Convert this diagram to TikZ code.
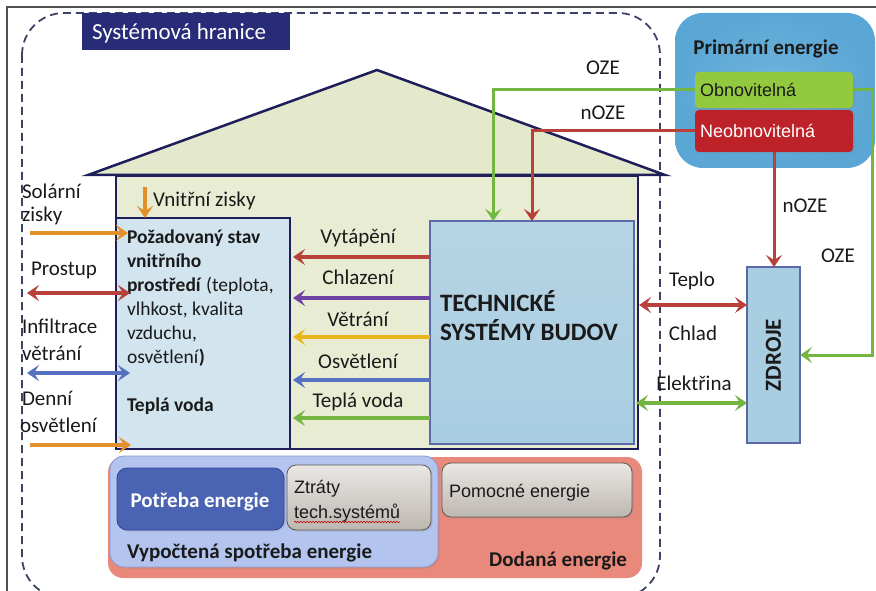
\documentclass[tikz,border=0pt]{standalone}
\usepackage{fontspec}
\setmainfont{Carlito}
\newfontfamily\arialf{Liberation Sans}
\usetikzlibrary{arrows.meta,calc,decorations.pathmorphing,shadows}

\definecolor{navy}{HTML}{1E1E5A}
\definecolor{framegray}{HTML}{505050}
\definecolor{boundary}{HTML}{3C4466}
\definecolor{labelbox}{HTML}{282C78}
\definecolor{houseol}{HTML}{E3E9CA}
\definecolor{reqblue}{HTML}{D2E5EF}
\definecolor{tsblue}{HTML}{A9CDE1}
\definecolor{tsedge}{HTML}{5A6AA8}
\definecolor{primblue}{HTML}{5AA6D4}
\definecolor{primlight}{HTML}{70B5DE}
\definecolor{renew}{HTML}{93C93F}
\definecolor{nonrenew}{HTML}{BE2229}
\definecolor{lgreen}{HTML}{74B642}
\definecolor{lred}{HTML}{B8413A}
\definecolor{lorange}{HTML}{E3902A}
\definecolor{lpurple}{HTML}{6E42A4}
\definecolor{lyellow}{HTML}{EAB51C}
\definecolor{lblue}{HTML}{5670C4}
\definecolor{delivered}{HTML}{E8897C}
\definecolor{computed}{HTML}{B3C5EE}
\definecolor{computededge}{HTML}{8C9CD2}
\definecolor{need}{HTML}{4A63B3}
\definecolor{neededge}{HTML}{33479A}
\definecolor{greyA}{HTML}{EAE7E4}
\definecolor{greyB}{HTML}{BDB7B1}
\definecolor{greyedge}{HTML}{5E5954}
\definecolor{txt}{HTML}{1A1A1A}

\begin{document}
\begin{tikzpicture}[x=1pt,y=-1pt,
  >={Stealth[length=12pt,width=16pt,inset=5pt]},
  every node/.style={inner sep=0pt,outer sep=0pt,text=txt},
  plain/.style={font=\fontsize{21}{25}\selectfont},
  boldtxt/.style={font=\fontsize{21}{25}\selectfont\bfseries},
  boxtxt/.style={font=\fontsize{19.5}{24}\selectfont},
  sanstxt/.style={font=\arialf\fontsize{18}{22}\selectfont},
  flow/.style={line width=3.5pt,->},
  twoway/.style={line width=3.5pt,<->},
  feed/.style={line width=3pt,->},
  softshadow/.style={drop shadow={opacity=0.25,shadow xshift=1.5pt,shadow yshift=-1.5pt}},
  greybox/.style={top color=greyA,bottom color=greyB,draw=greyedge,line width=0.8pt,rounded corners=9pt,softshadow}]

\useasboundingbox (0,0) rectangle (876,591);
\clip (0,0) rectangle (876,591);
\fill[white] (0,0) rectangle (876,591);

% page frame
\draw[framegray,line width=1.2pt] (7,591) -- (7,7) -- (876,7);

% system boundary
\draw[boundary,line width=1.8pt,dash pattern=on 8pt off 5pt,rounded corners=42pt]
  (22,13) rectangle (660,598);
\node[fill=labelbox,minimum width=208pt,minimum height=37pt] (syslbl) at (186,31.5) {};
\node[anchor=base west,text=white,font=\fontsize{23}{27}\selectfont] (systxt) at (92,40) {Systémová hranice};

% house
\draw[navy,line width=2.5pt,fill=houseol,line join=miter] (88,175) -- (377,70) -- (665,175) -- cycle;
\node[draw=navy,line width=2.5pt,fill=houseol!85!white,minimum width=522pt,minimum height=273pt] (house) at (377,312.5) {};
\node[draw=navy,line width=1.5pt,fill=reqblue,minimum width=174pt,minimum height=231pt] (req) at (203,333.5) {};
\node[draw=tsedge,line width=1.2pt,top color=tsblue!85!white,bottom color=tsblue,minimum width=204pt,minimum height=223pt] (ts) at (532,332.5) {};

% sources
\node[draw=tsedge,line width=1.2pt,fill=tsblue,minimum width=53pt,minimum height=176pt] (src) at (773.5,355) {};
\node[rotate=90,font=\fontsize{23}{27}\selectfont\bfseries] (srctxt) at (src.center) {ZDROJE};

% primary energy
\node[inner color=primlight,outer color=primblue,rounded corners=28pt,minimum width=200pt,minimum height=155pt] (prim) at (775,90.5) {};
\node[anchor=base,font=\fontsize{21}{25}\selectfont\bfseries] (primtxt) at (766,55) {Primární energie};
\node[fill=renew,rounded corners=4pt,minimum width=158pt,minimum height=36pt,softshadow] (renew) at (774,90) {};
\node[anchor=base west,sanstxt] (renewtxt) at (700,97) {Obnovitelná};
\node[fill=nonrenew,rounded corners=4pt,minimum width=158pt,minimum height=42pt,softshadow] (nonrenew) at (774,131) {};
\node[anchor=base west,sanstxt,text=white] (nonrenewtxt) at (700,138) {Neobnovitelná};

% energy balance panels
\node[fill=delivered,rounded corners=15pt,minimum width=534pt,minimum height=121pt] (deliv) at (375,517.5) {};
\node[fill=computed,draw=computededge,line width=0.8pt,rounded corners=14pt,minimum width=328pt,minimum height=111pt,softshadow] (computedE) at (274,511.5) {};
\node[fill=need,draw=neededge,line width=0.8pt,rounded corners=10pt,minimum width=167pt,minimum height=62pt,softshadow] (need) at (200.5,499) {};
\node[greybox,minimum width=144pt,minimum height=65pt] (loss) at (359,497.5) {};
\node[greybox,minimum width=190pt,minimum height=54pt] (aux) at (537,490) {};

\node[anchor=base,boldtxt,text=white] (needtxt) at (200,507) {Potřeba energie};
\node[anchor=base west,sanstxt] (losstxtA) at (294,493) {Ztráty};
\node[anchor=base west,sanstxt] (losstxtB) at (294,518) {tech.systémů};
\draw[red!75!black,line width=0.6pt,decorate,decoration={snake,segment length=3pt,amplitude=0.7pt}]
  ($(losstxtB.base west)+(0,4)$) -- ($(losstxtB.base east)+(0,4)$);
\node[anchor=base west,sanstxt] (auxtxt) at (449,497) {Pomocné energie};
\node[anchor=base west,boldtxt] (computedtxt) at (127,558) {Vypočtená spotřeba energie};
\node[anchor=base east,boldtxt] (delivtxt) at (627,566) {Dodaná energie};

% required indoor state
\node[anchor=base west,boxtxt] (rq1) at (127,243) {\bfseries Požadovaný stav};
\node[anchor=base west,boxtxt] (rq2) at (127,267) {\bfseries vnitřního};
\node[anchor=base west,boxtxt] (rq3) at (127,291) {\textbf{prostředí} (teplota,};
\node[anchor=base west,boxtxt] (rq4) at (127,315) {vlhkost, kvalita};
\node[anchor=base west,boxtxt] (rq5) at (127,339) {vzduchu,};
\node[anchor=base west,boxtxt] (rq6) at (127,363) {osvětlení\textbf{)}};
\node[anchor=base west,boxtxt] (rq7) at (127,411) {\bfseries Teplá voda};

% technical systems
\node[anchor=base west,font=\fontsize{25}{29}\selectfont\bfseries] (ts1) at (440,311) {TECHNICKÉ};
\node[anchor=base west,font=\fontsize{25}{29}\selectfont\bfseries] (ts2) at (440,340) {SYSTÉMY BUDOV};

% internal gains
\coordinate (intA) at (145,187);
\draw[flow,lorange] (intA) -- (intA |- req.north);
\node[anchor=base west,plain] (inttxt) at (153,207) {Vnitřní zisky};

% exchanges with the exterior
\node[anchor=base west,plain] (sol1) at (22,198) {Solární};
\node[anchor=base west,plain] (sol2) at (22,222) {zisky};
\coordinate (solA) at (30,233);
\draw[flow,lorange] (solA) -- ($(req.west |- solA)+(12,0)$);

\node[anchor=base west,plain] (prs) at (31,275) {Prostup};
\coordinate (prsA) at (27,293);
\draw[twoway,lred] (prsA) -- ($(req.west |- prsA)+(14,0)$);

\node[anchor=base west,plain] (inf1) at (22,333) {Infiltrace};
\node[anchor=base west,plain] (inf2) at (22,360) {větrání};
\coordinate (infA) at (27,373);
\draw[twoway,lblue] (infA) -- ($(req.west |- infA)+(14,0)$);

\node[anchor=base west,plain] (day1) at (22,405) {Denní};
\node[anchor=base west,plain] (day2) at (20,432) {osvětlení};
\coordinate (dayA) at (30,445);
\draw[flow,lorange] (dayA) -- ($(req.west |- dayA)+(15,0)$);

% services delivered by the technical systems
\foreach \yy/\col/\ly/\name in {257/lred/243/Vytápění, 298/lpurple/284/Chlazení, 337/lyellow/326/Větrání, 380/lblue/368/Osvětlení, 418/lgreen/407/Teplá voda}{
  \draw[flow,\col] (ts.west |- 0,\yy) -- ($(req.east |- 0,\yy)+(3,0)$);
  \node[anchor=base,plain] at (358,\ly) {\name};
}

% primary energy feeds
\draw[feed,lgreen] (renew.west) -| ($(ts.north west)!0.31!(ts.north east)$);
\draw[feed,lred] (nonrenew.west) -| (ts.north);
\draw[feed,lgreen] (renew.east) -- ++(19,0) |- (src.east);
\draw[feed,lred] (nonrenew.south) -- (nonrenew.south |- src.north);
\node[anchor=base,plain] (oze1) at (603,75) {OZE};
\node[anchor=base,plain] (noze1) at (603,120) {nOZE};
\node[anchor=base,plain] (noze2) at (805,212) {nOZE};
\node[anchor=base,plain] (oze2) at (838,262) {OZE};

% exchanges between sources and technical systems
\draw[twoway,lred] ($(ts.east |- 0,305)+(5,0)$) -- (src.west |- 0,305);
\draw[twoway,lgreen] ($(ts.east |- 0,403)+(2,0)$) -- (src.west |- 0,403);
\node[anchor=base,plain] (heat) at (692,286) {Teplo};
\node[anchor=base,plain] (cold) at (693,340) {Chlad};
\node[anchor=base,plain] (elec) at (694,390) {Elektřina};

\end{tikzpicture}
\end{document}
